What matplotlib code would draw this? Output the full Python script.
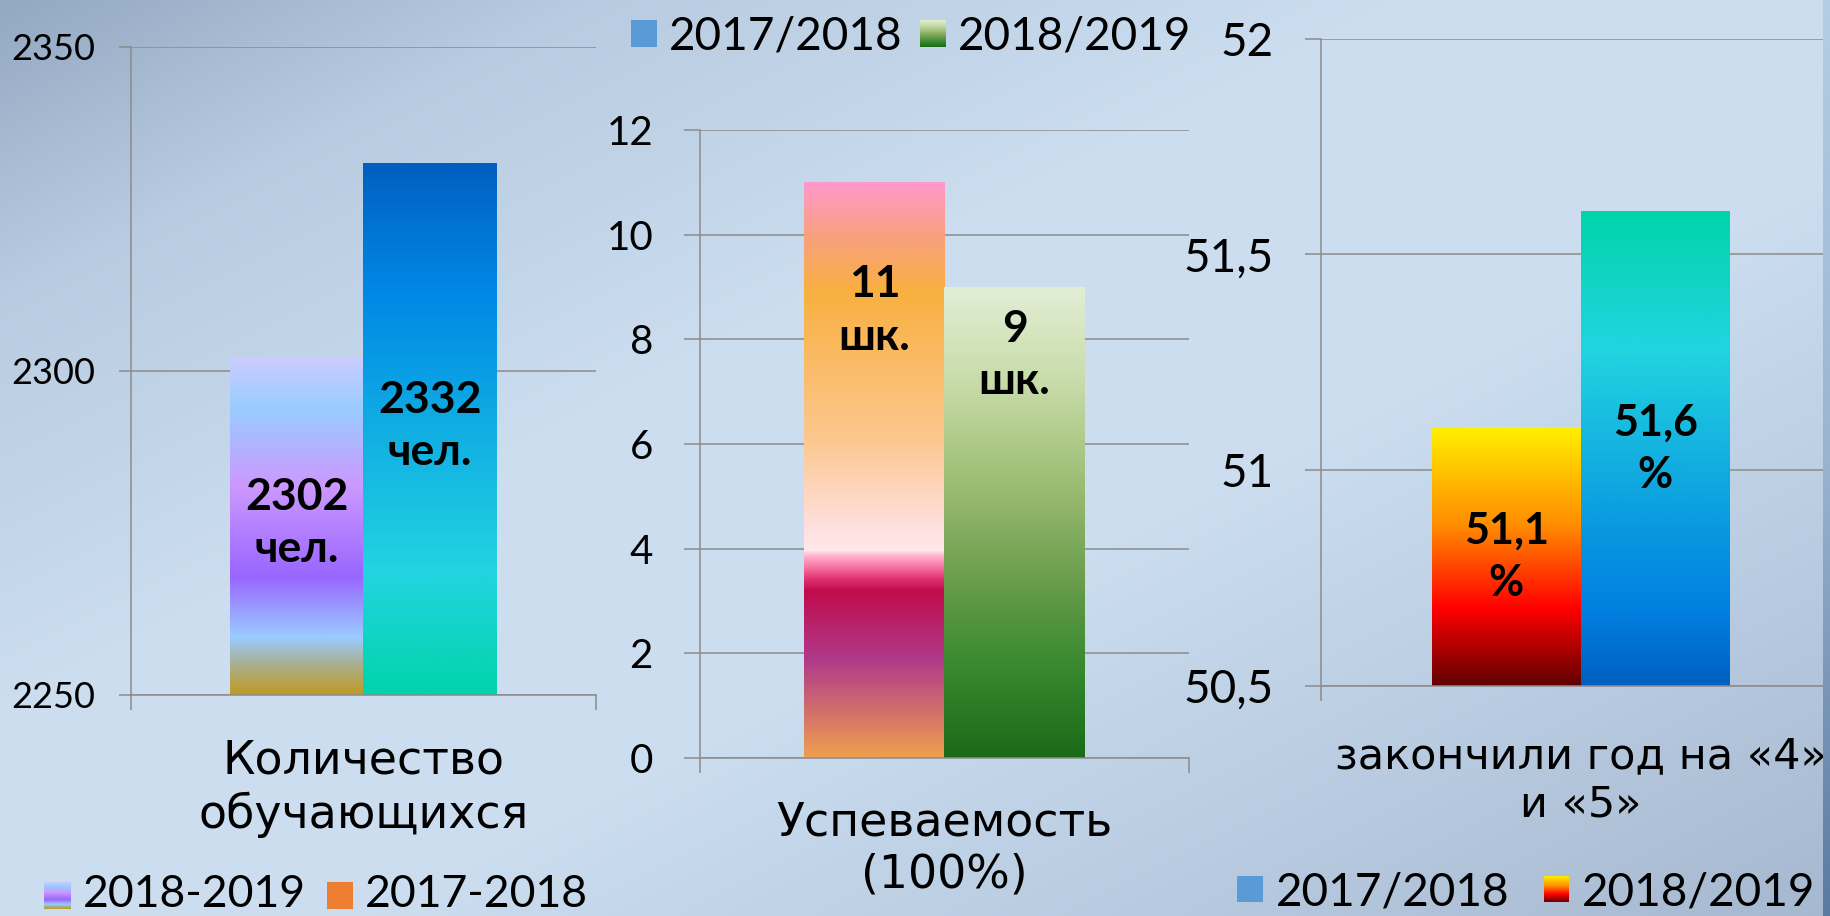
import matplotlib
matplotlib.use('Agg')
import matplotlib.pyplot as plt
import numpy as np
from matplotlib.colors import LinearSegmentedColormap, to_rgb

plt.rcParams['font.family'] = ['Lato', 'DejaVu Sans']

W, H = 1831, 916

# ---- data ----
cat1 = 'Количество\nобучающихся'
vals1 = [2302, 2332]
lab1 = ['2302\nчел.', '2332\nчел.']
leg1 = ['2018-2019', '2017-2018']
ticks1 = [2250, 2300, 2350]
ticklab1 = ['2250', '2300', '2350']

cat2 = 'Успеваемость\n(100%)'
vals2 = [11, 9]
lab2 = ['11\nшк.', '9\nшк.']
laby2 = [8.55, 7.7]
leg2 = ['2017/2018', '2018/2019']
ticks2 = [0, 2, 4, 6, 8, 10, 12]
ticklab2 = ['0', '2', '4', '6', '8', '10', '12']

cat3 = 'закончили год на «4»\nи «5»'
vals3 = [51.1, 51.6]
lab3 = ['51,1\n%', '51,6\n%']
leg3 = ['2017/2018', '2018/2019']
ticks3 = [50.5, 51, 51.5, 52]
ticklab3 = ['50,5', '51', '51,5', '52']

# ---- gradients (0 = bottom, 1 = top) ----
def cm(stops):
    return LinearSegmentedColormap.from_list('g', stops, N=512)

g_lilac = cm([(0, '#bf9a22'), (0.09, '#aab090'), (0.17, '#99ccff'), (0.35, '#9966ff'),
              (0.62, '#cc99ff'), (0.85, '#99ccff'), (1, '#ccccff')])
g_blue = cm([(0, '#00d4aa'), (0.23, '#22d4e0'), (0.76, '#0088e6'), (1, '#005fc0')])
g_blue_up = cm([(0, '#005fc0'), (0.16, '#0080e0'), (0.34, '#0a9ae0'), (0.71, '#22d4e0'), (1, '#00d4aa')])
g_rose = cm([(0, '#f0a050'), (0.17, '#b03a8a'), (0.29, '#c00c4c'), (0.31, '#e03070'),
             (0.33, '#f870a0'), (0.35, '#ffb0cc'), (0.36, '#ffe8ec'), (0.40, '#ffe0e0'),
             (0.55, '#fcc890'), (0.81, '#f8b040'), (0.91, '#f8a080'), (1, '#ff99cc')])
g_green = cm([(0, '#1a6a18'), (0.2, '#3a8a30'), (0.4, '#70a050'), (0.6, '#a0c078'),
              (0.8, '#c8dcaa'), (1, '#e2eed4')])
g_fire = cm([(0, '#600000'), (0.3, '#ff0000'), (0.62, '#ff8c00'), (1, '#fff000')])

grad = np.linspace(0, 1, 512).reshape(-1, 1)


def box(x0, y0, x1, y1):
    return [x0 / W, 1 - y1 / H, (x1 - x0) / W, (y1 - y0) / H]


fig = plt.figure(figsize=(W / 100, H / 100), dpi=100)

# background
bg = fig.add_axes([0, 0, 1, 1], zorder=-10)
yy, xx = np.mgrid[0:H:4, 0:W:4]
t = 0.5 * xx / W + 0.5 * yy / H
stops_t = [0, 0.16, 0.38, 0.6, 0.8, 1]
stops_c = np.array([to_rgb(c) for c in ['#93a8c2', '#b8cbe0', '#cbddef', '#cbddef', '#b8cbe0', '#a5b8cf']])
img = np.dstack([np.interp(t, stops_t, stops_c[:, k]) for k in range(3)])
bg.imshow(img, extent=[0, 1, 0, 1], aspect='auto')
bg.axis('off')

GRID = '#8c8c8c'
CATFONT = ['DejaVu Sans']
xpos = [-0.14325, 0.14325]
bw = 0.2865


def panel(rect, ylim, ticks, ticklabels, vals, cmaps, labels, laby, cat,
          tick_fs, tick_len, tick_pad, lab_fs, cat_off, cat_fs):
    ax = fig.add_axes(box(*rect))
    ax.patch.set_alpha(0)
    bars = ax.bar(xpos, vals, width=bw, color='none', zorder=2)
    for b, c in zip(bars, cmaps):
        x0 = b.get_x()
        y0 = max(b.get_y(), ylim[0])
        y1 = b.get_y() + b.get_height()
        ax.imshow(grad, extent=[x0, x0 + b.get_width(), y0, y1], origin='lower',
                  aspect='auto', cmap=c, zorder=2)
    ax.set_xlim(-0.5, 0.5)
    ax.set_ylim(*ylim)
    ax.set_yticks(ticks, ticklabels)
    ax.set_xticks([-0.5, 0.5], ['', ''])
    ax.set_axisbelow(True)
    ax.yaxis.grid(True, color=GRID, lw=1.1)
    for s in ['top', 'right']:
        ax.spines[s].set_visible(False)
    for s in ['left', 'bottom']:
        ax.spines[s].set_color(GRID)
        ax.spines[s].set_linewidth(1.1)
    ax.tick_params(axis='y', length=tick_len * 0.72, width=1.1, color=GRID,
                   pad=tick_pad * 0.72, labelsize=tick_fs, labelcolor='black')
    ax.tick_params(axis='x', length=15 * 0.72, width=1.1, color=GRID)
    for x, lab, y in zip(xpos, labels, laby):
        ax.text(x, y, lab, ha='center', va='center', fontsize=lab_fs,
                fontweight='bold', linespacing=1.38, zorder=3)
    ax.annotate(cat, xy=(0, 0), xycoords=('data', 'axes fraction'),
                xytext=(0, -cat_off * 0.72), textcoords='offset points',
                ha='center', va='top', fontsize=cat_fs, linespacing=1.2,
                multialignment='center', annotation_clip=False, family=CATFONT)
    return ax


ylim1 = (2250, 2350)
laby1 = [(ylim1[0] + v) / 2 + 0.5 for v in vals1]
panel((130.5, 46.7, 596, 695), ylim1, ticks1, ticklab1, vals1, [g_lilac, g_blue],
      lab1, laby1, cat1, 26, 12, 23.5, 32, 44, 33)

panel((700, 130, 1189, 758), (0, 12), ticks2, ticklab2, vals2, [g_rose, g_green],
      lab2, laby2, cat2, 29, 16, 31, 32, 42, 33)

ylim3 = (50.5, 52)
laby3 = [(ylim3[0] + v) / 2 for v in vals3]
panel((1320.7, 38.5, 1840.7, 686), ylim3, ticks3, ticklab3, vals3, [g_fire, g_blue_up],
      lab3, laby3, cat3, 33, 15.7, 31, 31, 49, 31)


# legends
def legend_item(x0, y0, x1, y1, fill, text, tx, base, fs):
    a = fig.add_axes(box(x0, y0, x1, y1))
    if isinstance(fill, str):
        a.set_facecolor(fill)
    else:
        a.imshow(grad, extent=[0, 1, 0, 1], origin='lower', aspect='auto', cmap=fill)
    a.set_xticks([])
    a.set_yticks([])
    for s in a.spines.values():
        s.set_visible(False)
    fig.text(tx / W, 1 - base / H, text, fontsize=fs, ha='left', va='baseline')


legend_item(44, 882, 71, 909, g_lilac, leg1[0], 83, 907, 32)
legend_item(327, 882, 353, 909, '#ed7d31', leg1[1], 365, 907, 32)
legend_item(631, 20, 657, 47, '#5b9bd5', leg2[0], 669, 50, 33)
legend_item(920, 20, 946, 47, g_green, leg2[1], 958, 50, 33)
legend_item(1237, 876, 1263, 902, '#5b9bd5', leg3[0], 1276, 905, 33)
legend_item(1544, 876, 1569, 902, g_fire, leg3[1], 1582, 905, 33)

# right edge strip
strip = fig.add_axes(box(1823, 0, 1831, 916), zorder=5)
sc = cm([(0, '#5a7aa0'), (0.5, '#9ab4d0'), (1, '#b5cde6')])
strip.imshow(grad, extent=[0, 1, 0, 1], origin='lower', aspect='auto', cmap=sc)
strip.axis('off')

fig.savefig('out.png', dpi=100)
